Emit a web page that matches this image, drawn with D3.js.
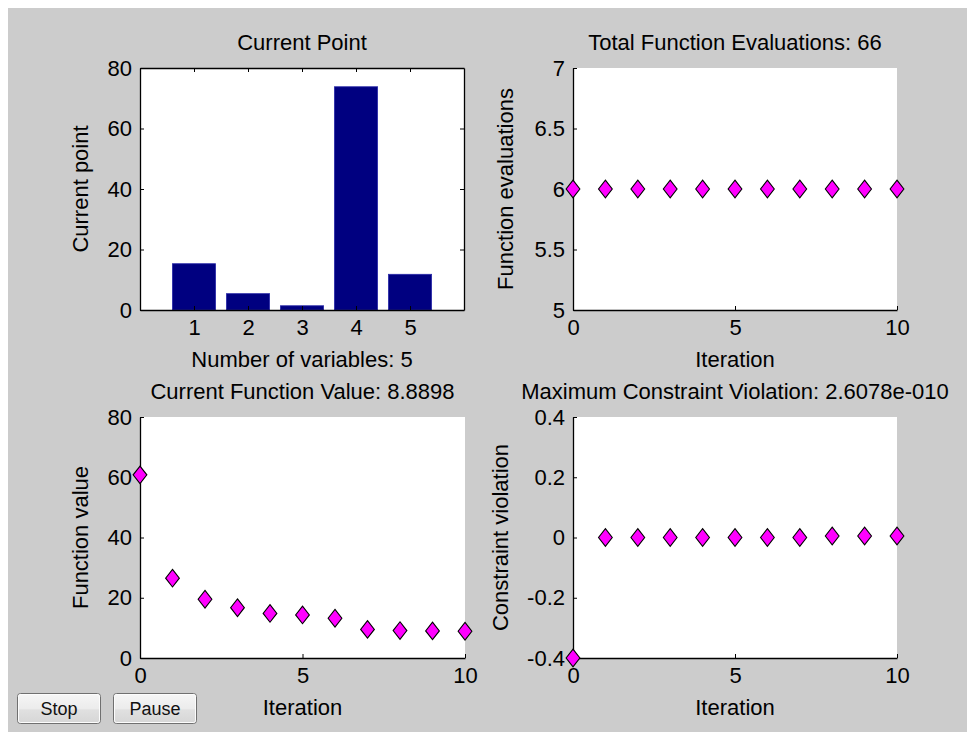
<!DOCTYPE html>
<html>
<head>
<meta charset="utf-8">
<script src="https://cdn.jsdelivr.net/npm/d3@7"></script>
<style>
  html, body { margin: 0; padding: 0; background: #fff; }
  svg { display: block; }
</style>
</head>
<body>
<div id="app"></div>
<script>
// DATA
const categories   = [1, 2, 3, 4, 5];
const currentPoint = [15.3, 5.4, 1.4, 73.8, 11.8];
const iterations   = [0, 1, 2, 3, 4, 5, 6, 7, 8, 9, 10];
const funcEvals    = [6, 6, 6, 6, 6, 6, 6, 6, 6, 6, 6];
const funcValues   = [60.8, 26.5, 19.5, 16.7, 14.8, 14.3, 13.2, 9.5, 9.1, 9.0, 8.89];
const constrViol   = [-0.4, 0, 0, 0, 0, 0, 0, 0, 0.005, 0.005, 0.005];

const barYTicks   = [0, 20, 40, 60, 80];
const iterTicks   = [0, 5, 10];
const evalTicks   = [5, 5.5, 6, 6.5, 7];
const valueTicks  = [0, 20, 40, 60, 80];
const violTicks   = [-0.4, -0.2, 0, 0.2, 0.4];
const buttonNames = ['Stop', 'Pause'];

// STYLE
const FONT = 'Arial, "Liberation Sans", sans-serif';
const FS = 22;
const TICK = 4;
const TEXT = '#000';

const W = 967, H = 732;

const svg = d3.select('#app')
  .append('svg')
  .attr('width', W)
  .attr('height', H);

// figure background
svg.append('rect')
  .attr('x', 8).attr('y', 8)
  .attr('width', W - 8).attr('height', H - 8)
  .attr('fill', '#cccccc');

// tall diamond like matlab's 'd' marker
const tallDiamond = {
  draw(ctx, size) {
    const h = Math.sqrt(size) / 2;
    const w = h * 0.78;
    ctx.moveTo(0, -h);
    ctx.lineTo(w, 0);
    ctx.lineTo(0, h);
    ctx.lineTo(-w, 0);
    ctx.closePath();
  }
};

function styleAxis(g) {
  g.attr('font-size', FS).attr('font-family', FONT).attr('color', '#000');
  g.selectAll('text').attr('fill', TEXT);
  g.select('.domain').attr('stroke-width', 1.3);
}

function panel(box, xScale, yScale, opt) {
  const g = svg.append('g');

  g.append('rect')
    .attr('x', box.x0).attr('y', box.y0)
    .attr('width', box.x1 - box.x0).attr('height', box.y1 - box.y0)
    .attr('fill', '#fff');

  const fmt = d => String(d);

  g.append('g')
    .attr('transform', `translate(0,${box.y1})`)
    .call(d3.axisBottom(xScale).tickValues(opt.xTicks).tickFormat(fmt)
      .tickSizeInner(-TICK).tickSizeOuter(0).tickPadding(9))
    .call(styleAxis);

  g.append('g')
    .attr('transform', `translate(${box.x0},0)`)
    .call(d3.axisLeft(yScale).tickValues(opt.yTicks).tickFormat(fmt)
      .tickSizeInner(-TICK).tickSizeOuter(0).tickPadding(8))
    .call(styleAxis);

  if (opt.box) {
    g.append('g')
      .attr('transform', `translate(0,${box.y0})`)
      .call(d3.axisTop(xScale).tickValues(opt.xTicks).tickFormat('')
        .tickSizeInner(-TICK).tickSizeOuter(0))
      .call(styleAxis);
    g.append('g')
      .attr('transform', `translate(${box.x1},0)`)
      .call(d3.axisRight(yScale).tickValues(opt.yTicks).tickFormat('')
        .tickSizeInner(-TICK).tickSizeOuter(0))
      .call(styleAxis);
  }

  const cx = (box.x0 + box.x1) / 2;
  const cy = (box.y0 + box.y1) / 2;

  g.append('text')
    .attr('x', cx).attr('y', box.y0 - 26)
    .attr('dy', '0.35em')
    .attr('text-anchor', 'middle')
    .attr('font-family', FONT).attr('font-size', FS)
    .attr('fill', TEXT)
    .text(opt.title);

  g.append('text')
    .attr('x', cx).attr('y', box.y1 + 49)
    .attr('dy', '0.35em')
    .attr('text-anchor', 'middle')
    .attr('font-family', FONT).attr('font-size', FS)
    .attr('fill', TEXT)
    .text(opt.xLabel);

  g.append('text')
    .attr('transform', `translate(${box.x0 - opt.yLabelOff},${cy}) rotate(-90)`)
    .attr('dy', '0.35em')
    .attr('text-anchor', 'middle')
    .attr('font-family', FONT).attr('font-size', FS)
    .attr('fill', TEXT)
    .text(opt.yLabel);

  return g;
}

function markers(g, xScale, yScale, xs, ys) {
  g.append('g')
    .selectAll('path')
    .data(ys)
    .enter()
      .append('path')
      .attr('d', d3.symbol(tallDiamond, 310))
      .attr('transform', (d, i) => `translate(${xScale(xs[i])},${yScale(d)})`)
      .attr('fill', '#ff00ff')
      .attr('stroke', '#000')
      .attr('stroke-width', 1.1);
}

// PANEL 1: Current Point (bars)
{
  const box = { x0: 140, x1: 464, y0: 68, y1: 310 };
  const x = d3.scaleLinear().domain([0, 6]).range([box.x0, box.x1]);
  const y = d3.scaleLinear().domain([0, 80]).range([box.y1, box.y0]);

  const g = svg.append('g');
  g.append('rect')
    .attr('x', box.x0).attr('y', box.y0)
    .attr('width', box.x1 - box.x0).attr('height', box.y1 - box.y0)
    .attr('fill', '#fff');

  g.selectAll('rect.bar')
    .data(currentPoint)
    .enter()
      .append('rect')
      .attr('class', 'bar')
      .attr('x', (d, i) => x(categories[i] - 0.4))
      .attr('width', x(0.8) - x(0))
      .attr('y', d => y(d))
      .attr('height', d => y(0) - y(d))
      .attr('fill', '#000080')
      .attr('stroke', '#2a2aa8')
      .attr('stroke-width', 0.8);

  panel(box, x, y, {
    xTicks: categories, yTicks: barYTicks, box: true,
    title: 'Current Point', xLabel: 'Number of variables: 5',
    yLabel: 'Current point', yLabelOff: 60
  }).select('rect').remove();
}

// PANEL 2: Total Function Evaluations
{
  const box = { x0: 573, x1: 897, y0: 68, y1: 310 };
  const x = d3.scaleLinear().domain([0, 10]).range([box.x0, box.x1]);
  const y = d3.scaleLinear().domain([5, 7]).range([box.y1, box.y0]);
  const g = panel(box, x, y, {
    xTicks: iterTicks, yTicks: evalTicks,
    title: 'Total Function Evaluations: 66', xLabel: 'Iteration',
    yLabel: 'Function evaluations', yLabelOff: 68
  });
  markers(g, x, y, iterations, funcEvals);
}

// PANEL 3: Current Function Value
{
  const box = { x0: 140, x1: 465, y0: 417, y1: 658 };
  const x = d3.scaleLinear().domain([0, 10]).range([box.x0, box.x1]);
  const y = d3.scaleLinear().domain([0, 80]).range([box.y1, box.y0]);
  const g = panel(box, x, y, {
    xTicks: iterTicks, yTicks: valueTicks,
    title: 'Current Function Value: 8.8898', xLabel: 'Iteration',
    yLabel: 'Function value', yLabelOff: 60
  });
  markers(g, x, y, iterations, funcValues);
}

// PANEL 4: Maximum Constraint Violation
{
  const box = { x0: 573, x1: 897, y0: 417, y1: 658 };
  const x = d3.scaleLinear().domain([0, 10]).range([box.x0, box.x1]);
  const y = d3.scaleLinear().domain([-0.4, 0.4]).range([box.y1, box.y0]);
  const g = panel(box, x, y, {
    xTicks: iterTicks, yTicks: violTicks,
    title: 'Maximum Constraint Violation: 2.6078e-010', xLabel: 'Iteration',
    yLabel: 'Constraint violation', yLabelOff: 73
  });
  markers(g, x, y, iterations, constrViol);
}

// BUTTONS
const defs = svg.append('defs');
const grad = defs.append('linearGradient')
  .attr('id', 'btn').attr('x1', 0).attr('y1', 0).attr('x2', 0).attr('y2', 1);
grad.append('stop').attr('offset', '0%').attr('stop-color', '#f6f6f6');
grad.append('stop').attr('offset', '50%').attr('stop-color', '#ececec');
grad.append('stop').attr('offset', '55%').attr('stop-color', '#e0e0e0');
grad.append('stop').attr('offset', '100%').attr('stop-color', '#d6d6d6');

const btnX = d3.scaleOrdinal().domain(buttonNames).range([17, 113]);
const btn = svg.selectAll('g.btn')
  .data(buttonNames)
  .enter()
    .append('g')
    .attr('class', 'btn')
    .attr('transform', d => `translate(${btnX(d)},693)`);

btn.append('rect')
  .attr('x', 0.5).attr('y', 0.5)
  .attr('width', 83).attr('height', 30)
  .attr('rx', 3)
  .attr('fill', 'url(#btn)')
  .attr('stroke', '#707070');

btn.append('rect')
  .attr('x', 1.5).attr('y', 1.5)
  .attr('width', 81).attr('height', 28)
  .attr('rx', 2)
  .attr('fill', 'none')
  .attr('stroke', '#fcfcfc');

btn.append('text')
  .attr('x', 42).attr('y', 16)
  .attr('dy', '0.35em')
  .attr('text-anchor', 'middle')
  .attr('font-family', FONT).attr('font-size', 18)
  .attr('fill', '#111')
  .text(d => d);
</script>
</body>
</html>
